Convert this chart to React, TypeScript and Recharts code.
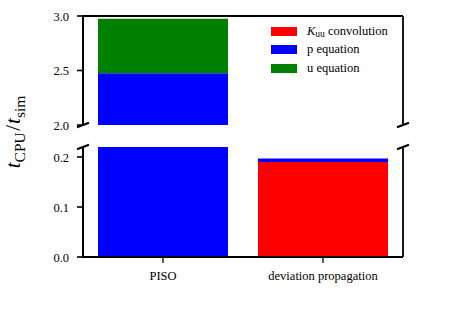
import React from 'react';
import { BarChart, Bar, XAxis, YAxis, Legend } from 'recharts';

// stacked timing per solver, split over a broken y axis
const categories = ['PISO', 'deviation propagation'];
const kuuConvolution = [0, 0.19];
const pEquation = [2.475, 0.007];
const uEquation = [0.5, 0];

const seriesKeys = ['kuu', 'p', 'u'];
const seriesColors = ['#ff0000', '#0000ff', '#008000'];

const upperTicks = [2.0, 2.5, 3.0];
const lowerTicks = [0.0, 0.1, 0.2];
const upperDomain = [2.0, 3.0];
const lowerDomain = [0.0, 0.22];

const data = categories.map((name, i) => ({
  name,
  kuu: kuuConvolution[i],
  p: pEquation[i],
  u: uEquation[i],
}));

const FONT = '"Liberation Serif", "Times New Roman", serif';
const tickStyle = { fontSize: 12.5, fill: '#000', fontFamily: FONT };
const axisLine = { stroke: '#000', strokeWidth: 1.8 };
const tickLine = { stroke: '#000', strokeWidth: 1.3 };
const fmt = (v: number) => v.toFixed(1);

// y tick: label plus its own tick mark
const YTick = (props: any) => {
  const { x, y, payload } = props;
  return (
    <g>
      <rect x={x + 8} y={y - 0.8} width={6.5} height={1.6} fill="#000" />
      <text x={x} y={y} dy="0.36em" textAnchor="end" {...tickStyle}>
        {fmt(payload.value)}
      </text>
    </g>
  );
};

const LegendBox = () => {
  const labels = [
    <span key="k">
      <i>K</i>
      <span style={{ fontSize: 9.5, position: 'relative', top: 2 }}>uu</span> convolution
    </span>,
    <span key="p">p equation</span>,
    <span key="u">u equation</span>,
  ];
  return (
    <div style={{ fontFamily: FONT, fontSize: 12.5, color: '#000' }}>
      {labels.map((label, i) => (
        <div key={i} style={{ display: 'flex', alignItems: 'center', height: 18.5 }}>
          <div style={{ width: 26, height: 9, background: seriesColors[i], marginRight: 10 }} />
          {label}
        </div>
      ))}
    </div>
  );
};

const bars = (withLegend: boolean) =>
  seriesKeys.map((key, i) => (
    <Bar
      key={key}
      dataKey={key}
      stackId="a"
      yAxisId="data"
      fill={seriesColors[i]}
      barSize={130}
      isAnimationActive={false}
      legendType={withLegend ? 'rect' : 'none'}
    />
  ));

const axes = (domain: number[], ticks: number[]) => [
  <YAxis key="data" yAxisId="data" hide domain={domain} allowDataOverflow />,
  <YAxis
    key="left"
    width={83}
    domain={domain}
    allowDataOverflow
    ticks={ticks}
    tick={<YTick />}
    tickSize={6}
    tickMargin={8}
    tickLine={false}
    axisLine={false}
  />,
  <YAxis
    key="right"
    yAxisId="right"
    orientation="right"
    width={1}
    domain={domain}
    tick={false}
    tickLine={false}
    stroke="#000"
    axisLine={axisLine}
  />,
];

// diagonal break marks on both spines
const Breaks = () => {
  const xs = [83, 403];
  const ys = [125, 147];
  return (
    <svg
      width={458}
      height={321}
      style={{ position: 'absolute', left: 0, top: 0, zIndex: 10, pointerEvents: 'none' }}
    >
      {xs.map((x) =>
        ys.map((y) => (
          <line
            key={`${x}-${y}`}
            x1={x - 6}
            y1={y + 2.2}
            x2={x + 6}
            y2={y - 2.2}
            stroke="#000"
            strokeWidth={2.2}
          />
        ))
      )}
    </svg>
  );
};

// left spine pieces as plain blocks
const spineStyle = (top: number, height: number): React.CSSProperties => ({
  position: 'absolute',
  left: 82,
  top,
  width: 2,
  height,
  background: '#000',
  zIndex: 11,
});

export default function App() {
  return (
    <div
      style={{
        position: 'absolute',
        left: 0,
        top: 0,
        width: 458,
        height: 321,
        background: '#fff',
        overflow: 'hidden',
      }}
    >
      <div style={{ position: 'absolute', left: 0, top: 0 }}>
        <BarChart width={458} height={140} data={data} margin={{ top: 15, right: 54, bottom: 15, left: 0 }}>
          <XAxis dataKey="name" hide />
          <XAxis
            xAxisId="top"
            dataKey="name"
            orientation="top"
            height={1}
            tick={false}
            tickLine={false}
            stroke="#000"
            axisLine={axisLine}
          />
          {axes(upperDomain, upperTicks)}
          <Legend
            layout="vertical"
            align="center"
            verticalAlign="middle"
            content={<LegendBox />}
            wrapperStyle={{ left: 271, top: 22, width: 130 }}
          />
          {bars(true)}
        </BarChart>
      </div>
      <div style={{ position: 'absolute', left: 0, top: 130 }}>
        <BarChart width={458} height={191} data={data} margin={{ top: 17, right: 54, bottom: 34, left: 0 }}>
          <XAxis
            dataKey="name"
            height={30}
            tick={tickStyle}
            tickSize={6}
            tickMargin={8}
            stroke="#000"
            tickLine={tickLine}
            axisLine={axisLine}
          />
          {axes(lowerDomain, lowerTicks)}
          {bars(false)}
        </BarChart>
      </div>
      <Breaks />
      <div style={spineStyle(15, 110)} />
      <div style={spineStyle(147, 111)} />
      <svg width={458} height={321} style={{ position: 'absolute', left: 0, top: 0, pointerEvents: 'none' }}>
        <text
          transform="translate(20,132) rotate(-90)"
          textAnchor="middle"
          fontFamily={FONT}
          fontSize={21}
          fill="#000"
        >
          <tspan fontStyle="italic">t</tspan>
          <tspan fontSize={15.5} dy={5}>CPU</tspan>
          <tspan dy={-5} dx={1.5}>/</tspan>
          <tspan fontStyle="italic" dx={1}>t</tspan>
          <tspan fontSize={15.5} dy={5}>sim</tspan>
        </text>
      </svg>
    </div>
  );
}
